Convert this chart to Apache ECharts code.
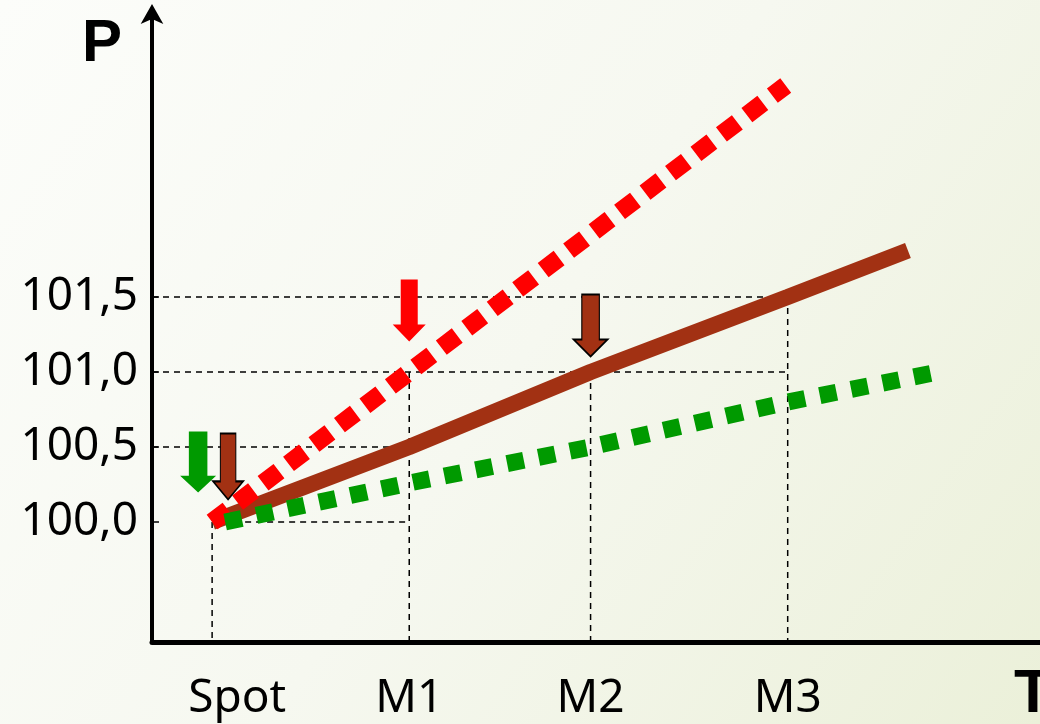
<!DOCTYPE html>
<html>
<head>
<meta charset="utf-8">
<script src="https://cdn.jsdelivr.net/npm/echarts@6/dist/echarts.min.js"></script>
<style>html,body{margin:0;padding:0;}#c{width:1040px;height:724px;}</style>
</head>
<body>
<div id="c"></div>
<script>
// Maturities (x positions in chart units) and their labels
var maturityNames = ['Spot', 'M1', 'M2', 'M3'];
var maturityX = [0, 1, 1.92, 2.92];
// Y tick values
var priceTicks = [100.0, 100.5, 101.0, 101.5];

// Curves [x, price]
var redCurve = [[0, 100.0], [1, 101.0], [2.91, 102.91]];
var brownCurve = [[0, 100.0], [1, 100.5], [1.92, 101.0], [2.92, 101.5], [3.53, 101.81]];
var greenCurve = [[0.066, 100.0], [1, 100.26], [1.92, 100.5], [2.92, 100.8], [3.645, 100.99]];

// Guide (dashed) segments
var guideSegments = [
  [[0, 100.0], [1, 100.0]],
  [[0, 100.0], [0, 99.2]],
  [[-0.305, 100.5], [1, 100.5]],
  [[1, 101.0], [1, 99.2]],
  [[-0.305, 101.0], [2.92, 101.0]],
  [[1.92, 101.0], [1.92, 99.2]],
  [[-0.305, 101.5], [2.92, 101.5]],
  [[2.92, 101.5], [2.92, 99.2]]
];

// Arrow annotations [x, price]
var redArrow = [[1.0, 101.41]];
var brownArrows = [[1.92, 101.31]];
var greenArrow = [[-0.071, 100.40]];
var smallBrownArrow = [[0.081, 100.37]];

var arrowPath = 'path://M8,0 L25,0 L25,45 L33,45 L16.5,62 L0,45 L8,45 Z';
var BROWN = '#a23113';
var RED = '#ff0000';
var GREEN = '#009a00';
var FONT = 'Noto Sans';

var chart = echarts.init(document.getElementById('c'));

var series = [];
guideSegments.forEach(function (seg) {
  series.push({
    type: 'line', data: seg, symbol: 'none', silent: true, z: 1,
    lineStyle: { color: '#000', width: 1.5, type: [6, 5] }
  });
});
series.push({
  type: 'line', data: brownCurve, symbol: 'none', silent: true, z: 3,
  lineStyle: { color: BROWN, width: 16, cap: 'butt' }
});
series.push({
  type: 'line', data: redCurve, symbol: 'none', silent: true, z: 4,
  lineStyle: { color: RED, width: 18, type: [20, 12], cap: 'butt' }
});
series.push({
  type: 'line', data: greenCurve, symbol: 'none', silent: true, z: 4,
  lineStyle: { color: GREEN, width: 17, type: [17, 15], cap: 'butt' }
});
function arrowSeries(data, size, color, border) {
  return {
    type: 'scatter', data: data, symbol: arrowPath, symbolSize: size, silent: true, z: 6,
    itemStyle: { color: color, opacity: 1, borderColor: border ? '#000' : color, borderWidth: border ? 1.5 : 0 }
  };
}
series.push(arrowSeries(redArrow, [33, 62], RED, false));
series.push(arrowSeries(brownArrows, [34, 62], BROWN, true));
series.push(arrowSeries(greenArrow, [36, 61], GREEN, false));
series.push(arrowSeries(smallBrownArrow, [30, 66], BROWN, true));

chart.setOption({
  animation: false,
  backgroundColor: {
    type: 'linear', x: 0, y: 0, x2: 1, y2: 1,
    colorStops: [{ offset: 0, color: '#fcfdfa' }, { offset: 0.5, color: '#f6f8f0' }, { offset: 1, color: '#ebf0d9' }]
  },
  grid: { left: 152, right: 0, top: 12, bottom: 82, containLabel: false },
  xAxis: {
    type: 'value', min: -0.305, max: 4.2,
    splitLine: { show: false },
    axisLine: { show: true, onZero: false, lineStyle: { color: '#000', width: 5 } },
    axisTick: { show: false },
    axisLabel: {
      customValues: maturityX, margin: 34, color: '#000', fontFamily: FONT, fontSize: 46,
      formatter: function (v) {
        var i = maturityX.indexOf(v);
        var name = i >= 0 ? maturityNames[i] : '';
        return i === 0 ? '{s|' + name + '}' : name;
      },
      rich: { s: { padding: [0, 0, 0, 50], fontFamily: FONT, fontSize: 46, color: '#000' } }
    }
  },
  yAxis: {
    type: 'value', min: 99.2, max: 103.4,
    splitLine: { show: false },
    axisLine: { show: true, onZero: false, symbol: ['none', 'arrow'], symbolSize: [17, 20], symbolOffset: [0, 8], lineStyle: { color: '#000', width: 4 } },
    axisTick: { show: true, inside: true, length: 7, customValues: priceTicks, lineStyle: { color: '#000', width: 1.5 } },
    axisLabel: {
      customValues: priceTicks, margin: 14, color: '#000', fontFamily: FONT, fontSize: 46,
      formatter: function (v) { return v.toFixed(1).replace('.', ','); }
    }
  },
  graphic: [
    { type: 'text', left: 82, top: 14, style: { text: 'P', font: 'bold 60px "Liberation Sans"', fill: '#000' } },
    { type: 'text', left: 1014, top: 664, style: { text: 'T', font: 'bold 62px "Liberation Sans"', fill: '#000' } }
  ],
  series: series
});
</script>
</body>
</html>
